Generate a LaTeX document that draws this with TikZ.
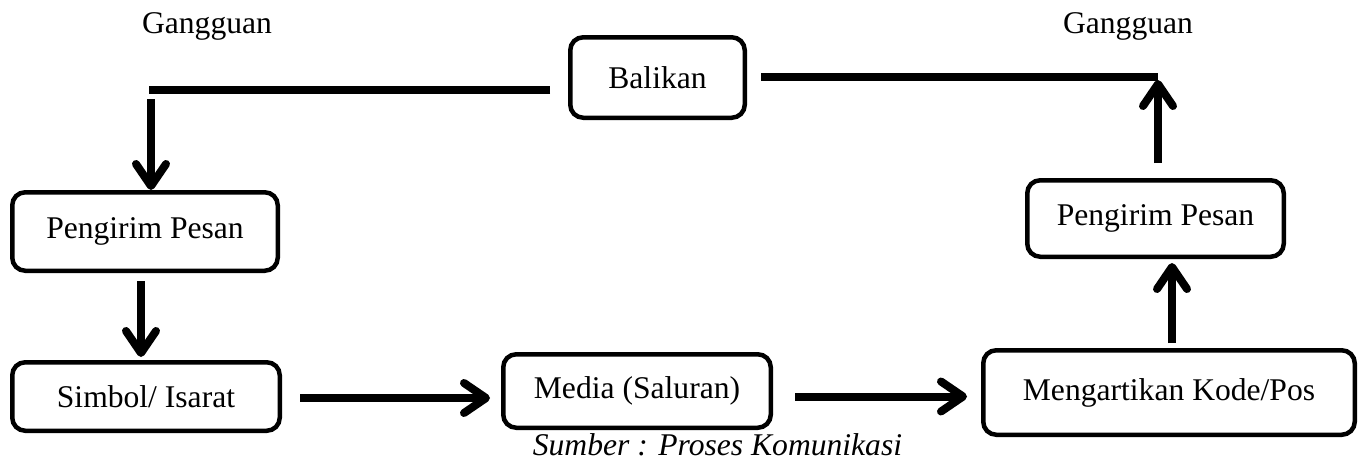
\documentclass[tikz,border=0pt]{standalone}
\usepackage{fontspec}
\setmainfont{Liberation Serif}
\usetikzlibrary{arrows.meta}
\begin{document}
\begin{tikzpicture}[x=1pt,y=-1pt,
  font=\fontsize{31.6}{38}\selectfont,
  box/.style={draw, line width=4.5pt, rounded corners=13pt, inner sep=0pt, align=center},
  bar/.style={line width=8pt},
  arr/.style={line width=8pt, -{Straight Barb[length=22pt,width=30pt,round]}},
  lbl/.style={anchor=base, inner sep=0pt}]
\useasboundingbox (0,0) rectangle (1364,461);
% boxes
\node[box, minimum width=265.5pt, minimum height=78.5pt] (P1) at (145,231.5) {Pengirim Pesan};
\node[box, minimum width=267.5pt, minimum height=68.5pt] (S) at (146,396.5) {Simbol/ Isarat};
\node[box, minimum width=267.5pt, minimum height=73.5pt] (Med) at (637,391) {Media (Saluran)};
\node[box, minimum width=371.5pt, minimum height=84.5pt] (M) at (1169,392.5) {\raisebox{4pt}{Mengartikan Kode/Pos}};
\node[box, minimum width=256.5pt, minimum height=76.5pt] (P2) at (1155.5,218.5) {Pengirim Pesan};
\node[box, minimum width=174.5pt, minimum height=80.5pt] (B) at (657.5,77.5) {Balikan};
% texts
\node[lbl] (g1) at (207,33) {Gangguan};
\node[lbl] (g2) at (1128,33) {Gangguan};
\node[lbl] (cap) at (717.5,455) {\itshape Sumber : Proses Komunikasi};
% feedback coordinates
\coordinate (fbL) at (151,90);
\coordinate (fbR) at (1158,77);
% feedback lines
\draw[bar, shorten <=18pt, shorten >=-2pt] (B.west |- fbL) -- (fbL);
\draw[arr, shorten <=9pt] (fbL) -- (fbL |- P1.north);
\draw[bar, shorten <=14pt] (B.east |- fbR) -- (fbR);
\draw[arr, shorten <=15pt, shorten >=3pt] (fbR |- P2.north) -- (fbR);
% flow arrows
\draw[arr, shorten <=8pt, shorten >=3pt] ([xshift=-4pt]P1.south) -- ([xshift=-4pt]P1.south |- S.north);
\draw[arr, shorten <=18pt, shorten >=11pt] ([yshift=-1.5pt]S.east) -- ([yshift=-1.5pt]S.east -| Med.west);
\draw[arr, shorten <=22pt, shorten >=14pt] (Med.east |- S.east) -- (M.west |- S.east);
\draw[arr, shorten <=5pt, shorten >=4pt] ([xshift=3pt]M.north) -- ([xshift=3pt]M.north |- P2.south);
\end{tikzpicture}
\end{document}
